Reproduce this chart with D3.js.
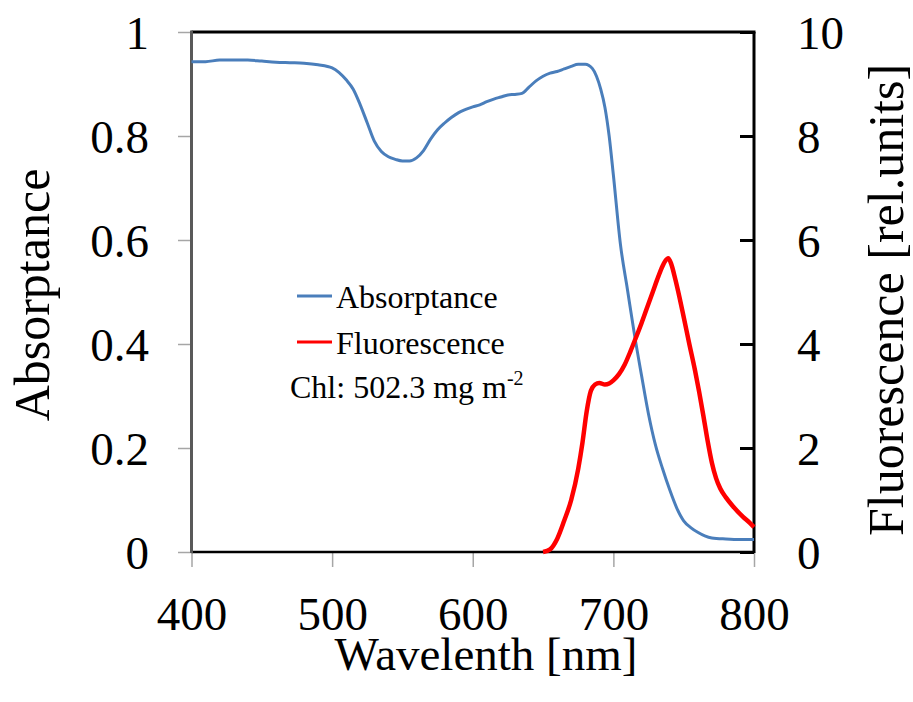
<!DOCTYPE html>
<html>
<head>
<meta charset="utf-8">
<script src="https://cdn.jsdelivr.net/npm/d3@7"></script>
<style>
  html, body { margin: 0; padding: 0; background: #fff; }
  svg { display: block; }
  svg text { font-family: "Liberation Serif", "Times New Roman", serif !important; fill: #000; }
</style>
</head>
<body>
<svg id="chart" width="913" height="702"></svg>
<script>
// ---- data ----
const absWavelengths = [400,410,420,430,440,450,460,470,480,490,500,505,510,515,520,525,530,535,540,545,550,555,560,565,570,575,580,585,590,595,600,605,610,615,620,625,630,635,640,645,650,655,660,665,670,675,680,685,688,691,694,697,700,705,710,715,720,725,730,735,740,745,750,755,760,765,770,780,790,800];
const absValues = [0.943,0.943,0.946,0.946,0.946,0.944,0.942,0.941,0.940,0.937,0.931,0.922,0.908,0.890,0.860,0.825,0.790,0.770,0.760,0.755,0.752,0.752,0.758,0.772,0.794,0.812,0.825,0.836,0.845,0.851,0.856,0.860,0.866,0.871,0.875,0.879,0.880,0.882,0.894,0.906,0.915,0.921,0.924,0.929,0.934,0.938,0.938,0.930,0.915,0.890,0.855,0.800,0.725,0.592,0.505,0.418,0.340,0.265,0.205,0.160,0.120,0.085,0.060,0.047,0.038,0.031,0.027,0.025,0.024,0.024];
const flWavelengths = [650,655,660,665,670,675,678,681,684,687,690,694,697,700,704,708,712,716,720,724,728,732,735,737,739,741,744,747,750,754,758,761,764,767,770,773,776,780,785,792,797,800];
const flValues = [0,0.05,0.25,0.6,1.0,1.6,2.1,2.7,3.1,3.22,3.25,3.22,3.24,3.3,3.42,3.6,3.85,4.12,4.4,4.7,5.0,5.3,5.5,5.6,5.65,5.55,5.25,4.9,4.52,4.0,3.5,3.08,2.62,2.14,1.72,1.42,1.22,1.05,0.88,0.68,0.56,0.48];
const xTicks = [400,500,600,700,800];
const yLeftTicks = [0,0.2,0.4,0.6,0.8,1];
const yRightTicks = [0,2,4,6,8,10];
const seriesNames = ["Absorptance","Fluorescence"];
const seriesColors = ["#4a7ebb","#ff0000"];
const xTitle = "Wavelenth [nm]";
const yLeftTitle = "Absorptance";
const yRightTitle = "Fluorescence [rel.units]";

// ---- layout ----
const SERIF = '"Liberation Serif", "Times New Roman", serif';
const L = 191.5, R = 754, T = 32, B = 552;
const svg = d3.select("#chart");
const x = d3.scaleLinear().domain([400,800]).range([L,R]);
const yL = d3.scaleLinear().domain([0,1]).range([B,T]);
const yR = d3.scaleLinear().domain([0,10]).range([B,T]);
const FONT = 47;

// left axis
const gL = svg.append("g").attr("transform",`translate(${L},0)`)
  .call(d3.axisLeft(yL).tickValues(yLeftTicks).tickSize(13.5).tickPadding(29)
    .tickFormat(d => (d===0||d===1) ? String(d) : d.toFixed(1)));
gL.attr("font-family",SERIF).attr("font-size",FONT);
gL.select(".domain").remove();
gL.selectAll(".tick line").attr("stroke","#a6a6a6").attr("stroke-width",1.5);
gL.selectAll(".tick text").attr("font-family",SERIF).attr("font-size",FONT).attr("dy","0.35em");

// bottom axis
const gB = svg.append("g").attr("transform",`translate(0,${B})`)
  .call(d3.axisBottom(x).tickValues(xTicks).tickSize(15).tickFormat(d3.format("d")));
gB.attr("font-family",SERIF).attr("font-size",FONT);
gB.select(".domain").remove();
gB.selectAll(".tick line").attr("stroke","#a6a6a6").attr("stroke-width",1.5);
gB.selectAll(".tick text").attr("font-family",SERIF).attr("font-size",FONT).attr("y",78).attr("dy",0);

// right axis
const gR = svg.append("g").attr("transform",`translate(${R},0)`)
  .call(d3.axisRight(yR).tickValues(yRightTicks).tickSize(-14).tickPadding(43).tickFormat(d3.format("d")));
gR.attr("font-family",SERIF).attr("font-size",FONT);
gR.select(".domain").remove();
gR.selectAll(".tick line").attr("stroke","#000").attr("stroke-width",3);
gR.selectAll(".tick text").attr("font-family",SERIF).attr("font-size",FONT).attr("dy","0.35em");

// frame
svg.append("line").attr("x1",L).attr("x2",R+1.5).attr("y1",T).attr("y2",T).attr("stroke","#000").attr("stroke-width",3);
svg.append("line").attr("x1",R).attr("x2",R).attr("y1",T).attr("y2",B+1).attr("stroke","#000").attr("stroke-width",3);
svg.append("line").attr("x1",L).attr("x2",R).attr("y1",B).attr("y2",B).attr("stroke","#000").attr("stroke-width",2.5);
svg.append("line").attr("x1",L).attr("x2",L).attr("y1",T-1.5).attr("y2",B+1).attr("stroke","#595959").attr("stroke-width",3);

// series
const absLine = d3.line().x((d,i)=>x(absWavelengths[i])).y(d=>yL(d)).curve(d3.curveMonotoneX);
svg.append("path").datum(absValues).attr("d",absLine)
  .attr("fill","none").attr("stroke",seriesColors[0]).attr("stroke-width",3).attr("stroke-linejoin","round");
const flLine = d3.line().x((d,i)=>x(flWavelengths[i])).y(d=>yR(d)).curve(d3.curveMonotoneX);
svg.append("path").datum(flValues).attr("d",flLine)
  .attr("fill","none").attr("stroke",seriesColors[1]).attr("stroke-width",4.5).attr("stroke-linejoin","round");

// legend
const legY = [296, 342];
seriesNames.forEach((n,i)=>{
  svg.append("line").attr("x1",297).attr("x2",332).attr("y1",legY[i]).attr("y2",legY[i])
    .attr("stroke",seriesColors[i]).attr("stroke-width",3);
  svg.append("text").attr("x",336).attr("y",legY[i]+12).attr("font-family",SERIF).attr("font-size",32).text(n);
});
const chl = svg.append("text").attr("x",290).attr("y",398).attr("font-family",SERIF).attr("font-size",32);
chl.append("tspan").text("Chl: 502.3 mg m");
chl.append("tspan").attr("font-size",20).attr("dy",-13).text("-2");

// titles
svg.append("text").attr("x",486).attr("y",670).attr("text-anchor","middle").attr("font-family",SERIF).attr("font-size",FONT).text(xTitle);
svg.append("text").attr("transform","translate(49,295) rotate(-90)").attr("text-anchor","middle").attr("font-family",SERIF).attr("font-size",50).text(yLeftTitle);
svg.append("text").attr("transform","translate(903,300) rotate(-90)").attr("text-anchor","middle").attr("font-family",SERIF).attr("font-size",50).text(yRightTitle);
</script>
</body>
</html>
